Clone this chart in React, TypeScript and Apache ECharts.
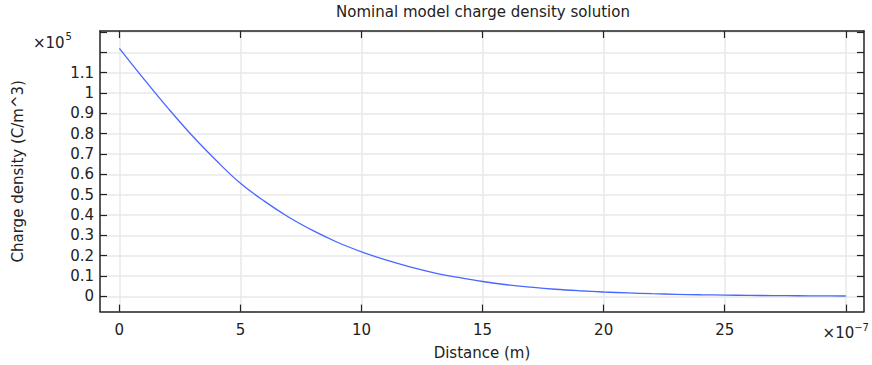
import React, { useEffect, useRef } from 'react';
import * as echarts from 'echarts';

// Distance (×1e-7 m)
const distance = [0, 1, 2, 3, 4, 5, 6, 7, 8, 9, 10, 11, 12, 13, 14, 15, 16, 17, 18, 19, 20, 21, 22, 23, 24, 25, 26, 27, 28, 29, 30];
// Charge density (×1e5 C/m^3)
const density = [1.22, 1.071, 0.927, 0.791, 0.668, 0.556, 0.467, 0.389, 0.323, 0.266, 0.219, 0.179, 0.145, 0.116, 0.093, 0.073, 0.057, 0.045, 0.035, 0.0275, 0.0215, 0.0168, 0.013, 0.0102, 0.0079, 0.0062, 0.0048, 0.0037, 0.0029, 0.0023, 0.0018];

const xTickValues = [0, 5, 10, 15, 20, 25, 30];
const xLabelValues = [0, 5, 10, 15, 20, 25, 30];
const yTickValues = [0, 0.1, 0.2, 0.3, 0.4, 0.5, 0.6, 0.7, 0.8, 0.9, 1, 1.1, 1.2, 1.3];
const yLabelValues = [0, 0.1, 0.2, 0.3, 0.4, 0.5, 0.6, 0.7, 0.8, 0.9, 1, 1.1];

const titleText = 'Nominal model charge density solution';
const xName = 'Distance (m)';
const yName = 'Charge density (C/m^3)';

const FONT = 'DejaVu Sans';
const FS = 15;
const TXT = '#222';
const GRIDC = '#e8e8e8';
const AXC = '#222';

export default function App() {
  const ref = useRef<HTMLDivElement>(null);
  useEffect(() => {
    if (!ref.current) return;
    const chart = echarts.init(ref.current, null, { renderer: 'svg' });
    const axisLine = { show: true, onZero: false, lineStyle: { color: AXC, width: 1.5 } };
    const xTick = { show: true, inside: true, length: 7, customValues: xTickValues, lineStyle: { color: AXC, width: 1.2 } };
    const yTick = { show: true, inside: true, length: 7, customValues: yTickValues, lineStyle: { color: AXC, width: 1.2 } };
    chart.setOption({
      animation: false,
      backgroundColor: '#fff',
      textStyle: { fontFamily: FONT },
      grid: { left: 100, right: 3, top: 31, bottom: 52, containLabel: false },
      xAxis: [
        {
          type: 'value', min: -0.8, max: 30.75, position: 'bottom',
          axisLine, axisTick: xTick,
          splitLine: { show: true, lineStyle: { color: GRIDC, width: 1.5 } },
          axisLabel: {
            margin: 11, fontFamily: FONT, fontSize: FS, color: TXT,
            customValues: xLabelValues,
            formatter: (v: number) => {
              if (Math.abs(v - 30) < 1e-6) return '{a|×10}{b|−7}';
              return String(Math.round(v));
            },
            rich: {
              a: { fontFamily: FONT, fontSize: FS, color: TXT },
              b: { fontFamily: FONT, fontSize: 10, color: TXT, padding: [0, 0, 10, 0] },
            },
          },
          name: xName, nameLocation: 'middle', nameGap: 31,
          nameTextStyle: { fontFamily: FONT, fontSize: FS, color: TXT },
        },
        {
          type: 'value', min: -0.8, max: 30.75, position: 'top',
          axisLine, axisTick: xTick, splitLine: { show: false },
          axisLabel: { show: false },
        },
      ],
      yAxis: [
        {
          type: 'value', min: -0.075, max: 1.305, position: 'left',
          axisLine, axisTick: yTick,
          splitLine: { show: true, lineStyle: { color: GRIDC, width: 1.5 } },
          axisLabel: {
            margin: 6, fontFamily: FONT, fontSize: FS, color: TXT,
            customValues: yLabelValues,
            formatter: (v: number) => String(Math.round(v * 10) / 10),
          },
          name: yName, nameLocation: 'middle', nameGap: 75,
          nameTextStyle: { fontFamily: FONT, fontSize: FS, color: TXT },
        },
        {
          type: 'value', min: -0.075, max: 1.305, position: 'right',
          axisLine, axisTick: yTick, splitLine: { show: false },
          axisLabel: { show: false },
        },
      ],
      graphic: [
        {
          type: 'text', x: 483, y: 12,
          style: { text: titleText, font: `${FS}px "${FONT}"`, fill: TXT, align: 'center', verticalAlign: 'middle' },
        },
        {
          type: 'text', x: 33, y: 43,
          style: { text: '×10', font: `${FS}px "${FONT}"`, fill: TXT, align: 'left', verticalAlign: 'middle' },
        },
        {
          type: 'text', x: 65.5, y: 36,
          style: { text: '5', font: `10px "${FONT}"`, fill: TXT, align: 'left', verticalAlign: 'middle' },
        },
      ],
      series: [
        {
          type: 'line', xAxisIndex: 0, yAxisIndex: 0,
          data: distance.map((d, i) => [d, density[i]]),
          smooth: 0.4, showSymbol: false, symbol: 'none',
          lineStyle: { color: '#4868ff', width: 1.3 },
        },
      ],
    });
    return () => chart.dispose();
  }, []);
  return <div ref={ref} style={{ position: 'fixed', left: 0, top: 0, width: 872, height: 365 }} />;
}
